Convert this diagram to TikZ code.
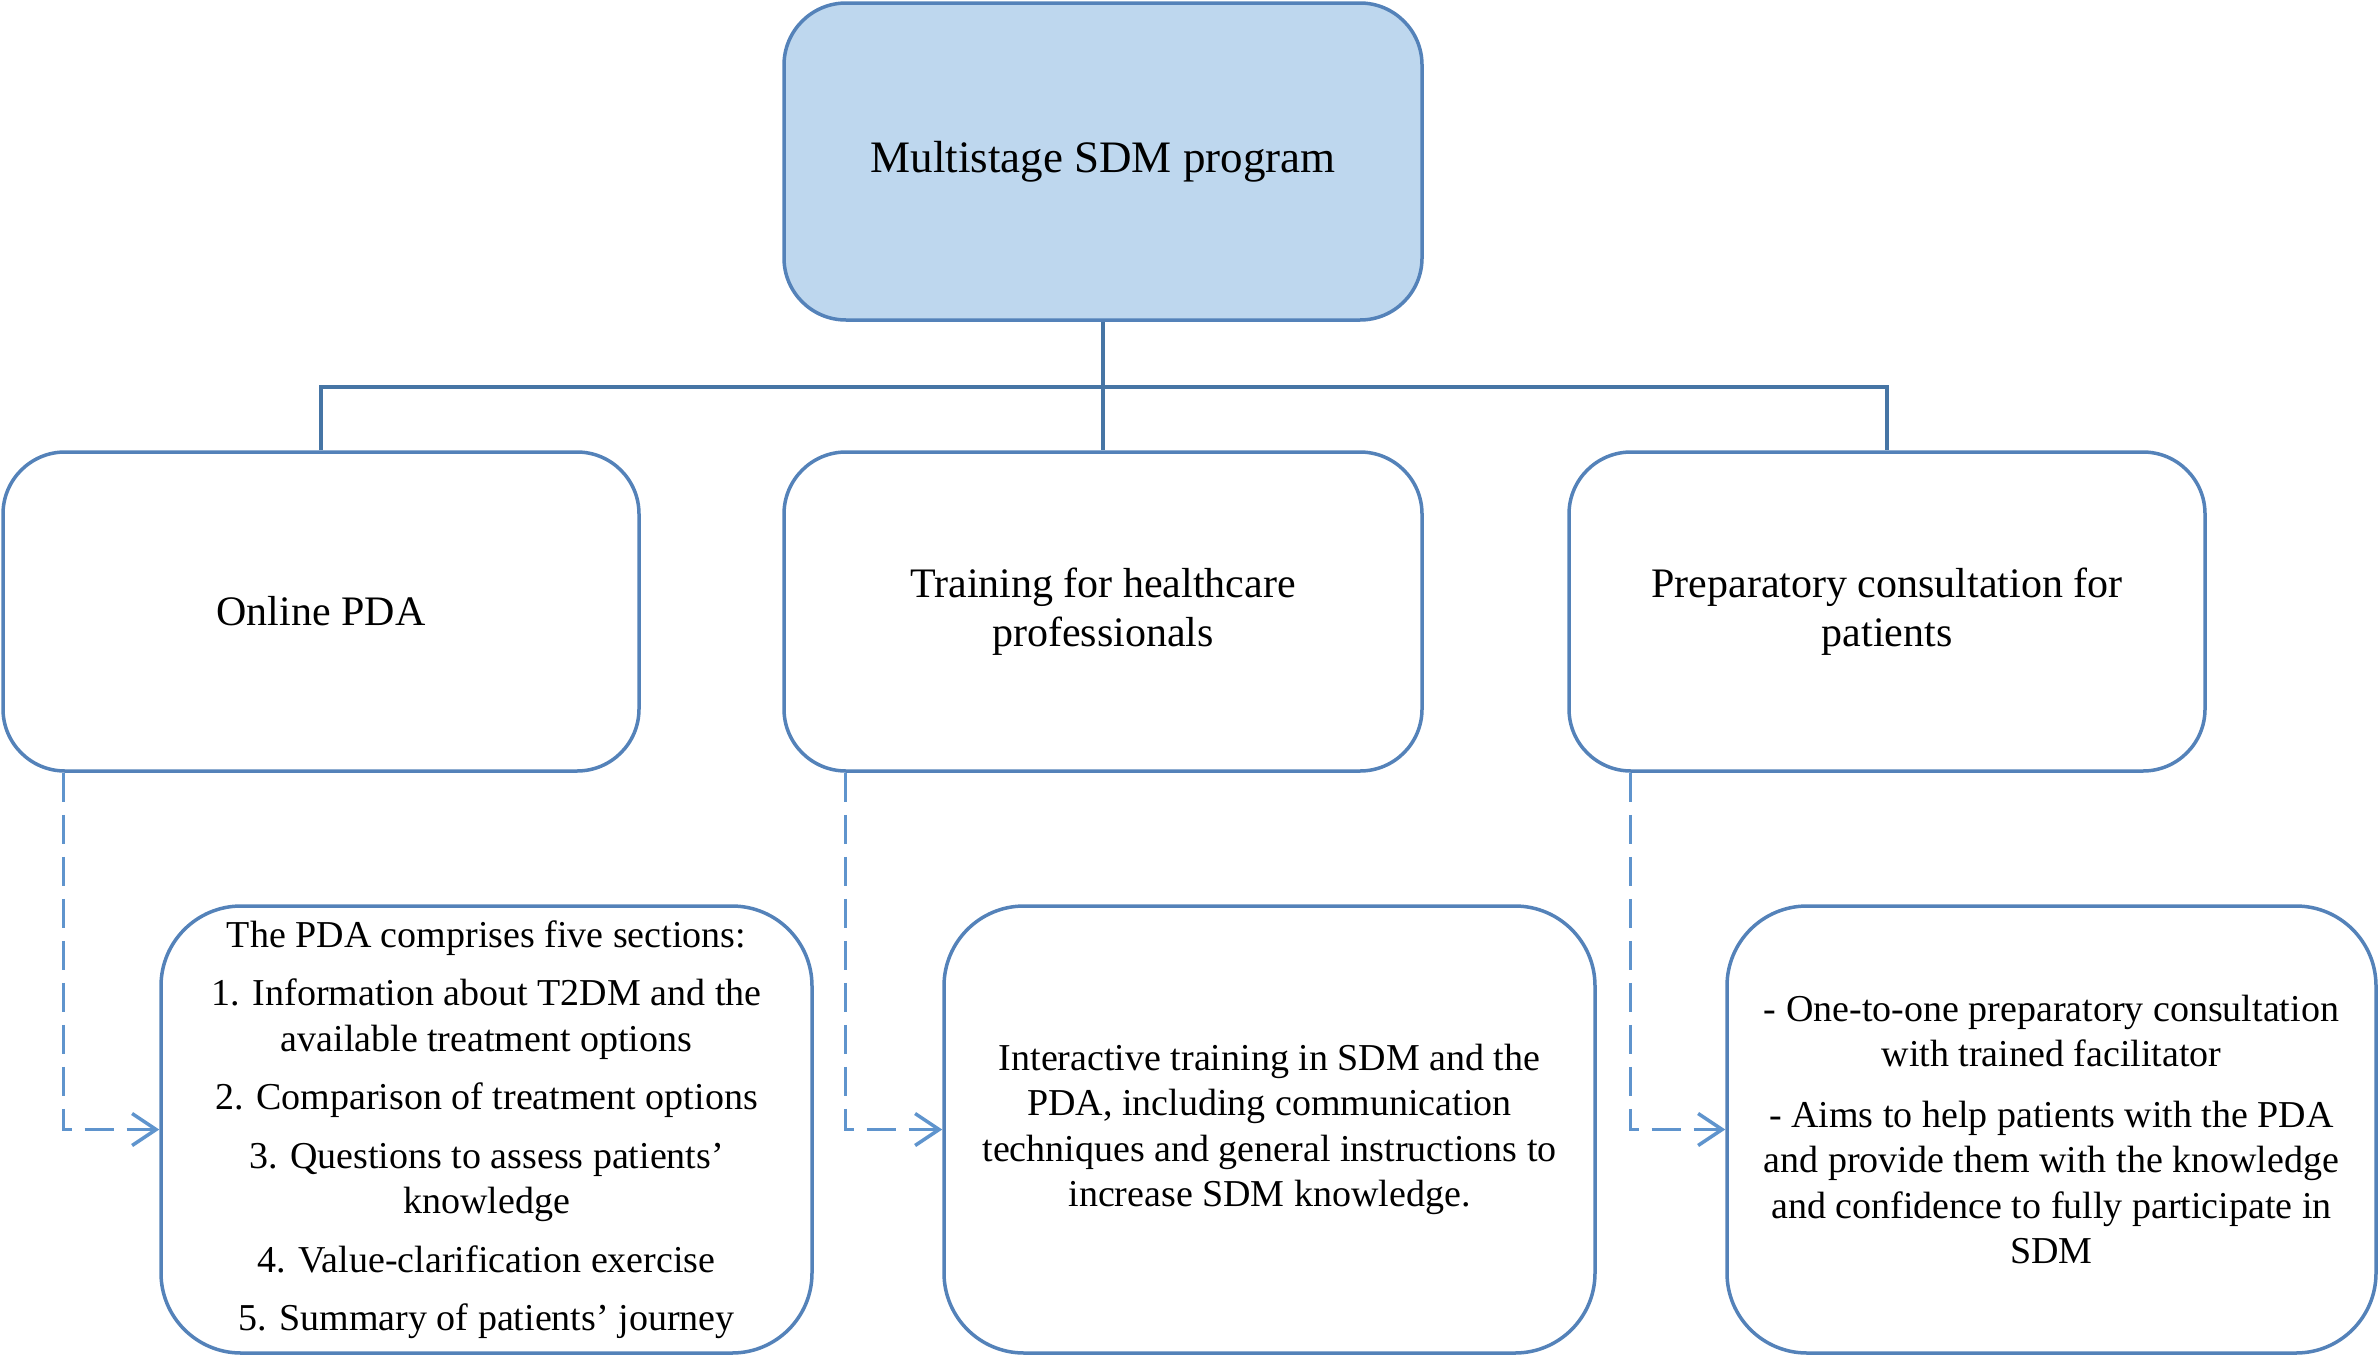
\documentclass[tikz,border=0pt]{standalone}
\usepackage{fontspec}
\setmainfont{Liberation Serif}
\usetikzlibrary{arrows.meta}
\definecolor{boxline}{RGB}{84,130,185}
\definecolor{topfill}{RGB}{190,215,238}
\definecolor{conn}{RGB}{70,117,165}
\definecolor{dashcol}{RGB}{95,148,205}
\begin{document}
\begin{tikzpicture}[x=1pt,y=-1pt,
  basebox/.style={draw=boxline,line width=3.5pt,inner sep=0pt,align=center,fill=white},
  topbox/.style={basebox,fill=topfill,rounded corners=62pt,minimum width=638pt,minimum height=317pt,font=\fontsize{45}{52}\selectfont},
  midbox/.style={basebox,rounded corners=62pt,minimum width=636pt,minimum height=319pt,font=\fontsize{42}{48.5}\selectfont},
  lowbox/.style={basebox,rounded corners=80pt,minimum width=650pt,minimum height=447pt,font=\fontsize{38}{45.5}\selectfont},
  link/.style={draw=conn,line width=3.5pt},
  dashlink/.style={draw=dashcol,line width=3.5pt,dash pattern=on 29pt off 13pt,-{Straight Barb[length=24pt,width=32pt,line width=3.5pt]}}
]
\useasboundingbox (0,0) rectangle (2379,1357);
\node[topbox] (top) at (1103,161.5) {Multistage SDM program};
\node[midbox] (pda) at (321,611.5) {Online PDA};
\node[midbox,minimum width=638pt] (train) at (1103,611.5) {Training for healthcare\\professionals};
\node[midbox] (prep) at (1887,611.5) {Preparatory consultation for\\patients};
\node[lowbox,minimum width=651pt] (pdad) at (486.5,1129.5) {The PDA comprises five sections:\\[13pt]
1. Information about T2DM and the\\available treatment options\\[13pt]
2. Comparison of treatment options\\[13pt]
3. Questions to assess patients’\\knowledge\\[13pt]
4. Value-clarification exercise\\[13pt]
5. Summary of patients’ journey};
\node[lowbox,minimum width=651pt] (traind) at (1269.5,1129.5) {Interactive training in SDM and the\\PDA, including communication\\techniques and general instructions to\\increase SDM knowledge.};
\node[lowbox,minimum width=649pt] (prepd) at (2051.5,1129.5) {- One-to-one preparatory consultation\\with trained facilitator\\[15pt]
- Aims to help patients with the PDA\\and provide them with the knowledge\\and confidence to fully participate in\\SDM};
\coordinate (bus) at (1103,387);
\draw[link] (top.south) -- (train.north);
\draw[link] (pda.north) |- (bus) -| (prep.north);
\draw[dashlink] ([xshift=62pt]pda.south west) |- (pdad.west);
\draw[dashlink] ([xshift=63pt]train.south west) |- (traind.west);
\draw[dashlink] ([xshift=63pt]prep.south west) |- (prepd.west);
\end{tikzpicture}
\end{document}
